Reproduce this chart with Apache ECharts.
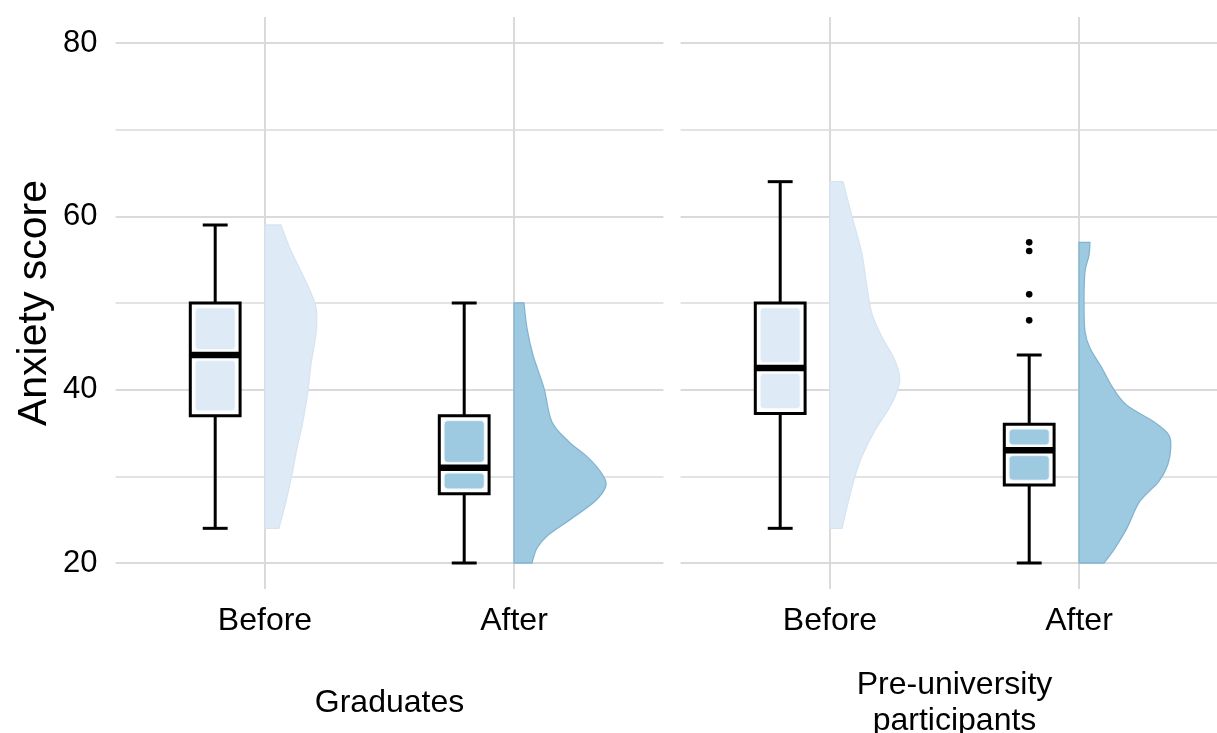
<!DOCTYPE html>
<html><head><meta charset="utf-8">
<script src="https://cdn.jsdelivr.net/npm/echarts@6/dist/echarts.min.js"></script>
<style>html,body{margin:0;padding:0;background:#fff}#c{width:1217px;height:733px}</style>
</head><body><div id="c"></div>
<script>
// ---------- data ----------
const categories = ['Before', 'After'];
const categoryPositions = [1, 2];
const facets = ['Graduates', 'Pre-university\nparticipants'];
const yTicks = [20, 40, 60, 80];
const yMinorTicks = [30, 50, 70];

// box statistics: [min, Q1, median, Q3, max]
const gradBeforeBox = [24, 37, 44, 50, 59];
const gradAfterBox  = [20, 28, 31, 37, 50];
const preBeforeBox  = [24, 37.25, 42.5, 50, 64];
const preAfterBox   = [20, 29, 33, 36, 44];

// outliers
const gradBeforeOutliers = [];
const gradAfterOutliers  = [];
const preBeforeOutliers  = [];
const preAfterOutliers   = [48, 51, 56, 57];

// half-violin density profiles: [score, density]
const gradBeforeDensity = [[59,0.016],[56.3,0.025],[53.2,0.038],[51.2,0.046],[49.6,0.051],[48,0.052],[46.3,0.051],[42.8,0.046],[39.8,0.043],[36.3,0.038],[33.2,0.032],[30.2,0.027],[27.1,0.021],[24,0.014]];
const gradAfterDensity  = [[50,0.010],[47.1,0.013],[44,0.019],[40.2,0.030],[36.3,0.038],[34,0.055],[32.1,0.075],[30.15,0.089],[28.8,0.092],[27.1,0.081],[25.15,0.058],[23.2,0.034],[21.7,0.023],[20,0.018]];
const preBeforeDensity  = [[64,0.013],[60,0.022],[55.7,0.032],[51.9,0.037],[48.8,0.042],[46.1,0.052],[43.4,0.065],[41.1,0.070],[38.4,0.062],[35.3,0.045],[32.3,0.032],[30,0.025],[26.9,0.018],[24,0.012]];
const preAfterDensity   = [[57,0.011],[55.5,0.010],[53.6,0.006],[50.1,0.005],[46.7,0.006],[44.8,0.011],[42.5,0.023],[40.2,0.034],[38.2,0.048],[36.3,0.075],[34.8,0.090],[33.2,0.092],[31.3,0.089],[29.4,0.080],[27.1,0.061],[24,0.048],[21.7,0.036],[20,0.025]];

// ---------- styling / layout ----------
const FONT = "'Liberation Sans', Arial, Helvetica, sans-serif";
const FILLS = ['#DEEBF7', '#9ECAE1'];
const STROKES = ['#d6e4f2', '#82b4d0'];
const GRID_COLOR = '#dadada';
const VIOLIN_SCALE = 4;
const BOX_OFFSET = -0.2, BOX_HALF = 0.1, CAP_HALF = 0.05;

const panels = [
  { boxes: [gradBeforeBox, gradAfterBox], outliers: [gradBeforeOutliers, gradAfterOutliers], dens: [gradBeforeDensity, gradAfterDensity] },
  { boxes: [preBeforeBox, preAfterBox], outliers: [preBeforeOutliers, preAfterOutliers], dens: [preBeforeDensity, preAfterDensity] }
];

function violinRender(panel) {
  return function (params, api) {
    const idx = params.dataIndex;
    const x = api.value(0);
    const prof = panel.dens[idx];
    const pts = prof.map(p => api.coord([x + p[1] * VIOLIN_SCALE, p[0]]));
    const top = api.coord([x, prof[0][0]]);
    const bot = api.coord([x, prof[prof.length - 1][0]]);
    let d = 'M' + top[0] + ',' + top[1] + 'L' + pts[0][0] + ',' + pts[0][1];
    for (let i = 0; i < pts.length - 1; i++) {
      const p0 = pts[i - 1] || pts[i], p1 = pts[i], p2 = pts[i + 1], p3 = pts[i + 2] || pts[i + 1];
      const c1x = p1[0] + (p2[0] - p0[0]) / 6, c1y = p1[1] + (p2[1] - p0[1]) / 6;
      const c2x = p2[0] - (p3[0] - p1[0]) / 6, c2y = p2[1] - (p3[1] - p1[1]) / 6;
      d += 'C' + c1x + ',' + c1y + ',' + c2x + ',' + c2y + ',' + p2[0] + ',' + p2[1];
    }
    d += 'L' + bot[0] + ',' + bot[1] + 'Z';
    return {
      type: 'path',
      shape: { pathData: d },
      style: { fill: FILLS[idx], stroke: STROKES[idx], lineWidth: 1.3 }
    };
  };
}

function boxRender(params, api) {
  const idx = params.dataIndex;
  const x = api.value(0) + BOX_OFFSET;
  const mn = api.value(1), q1 = api.value(2), md = api.value(3), q3 = api.value(4), mx = api.value(5);
  const tl = api.coord([x - BOX_HALF, q3]);
  const br = api.coord([x + BOX_HALF, q1]);
  const c = api.coord([x, md]);
  const yMax = api.coord([x, mx])[1], yMin = api.coord([x, mn])[1];
  const capL = api.coord([x - CAP_HALF, mx])[0], capR = api.coord([x + CAP_HALF, mx])[0];
  const left = tl[0], top = tl[1], right = br[0], bottom = br[1], w = right - left;
  const ls = { stroke: '#000', lineWidth: 3 };
  const inset = 5.5, medGap = 6;
  const children = [
    { type: 'line', shape: { x1: c[0], y1: top, x2: c[0], y2: yMax }, style: ls },
    { type: 'line', shape: { x1: c[0], y1: bottom, x2: c[0], y2: yMin }, style: ls },
    { type: 'line', shape: { x1: capL, y1: yMax, x2: capR, y2: yMax }, style: ls },
    { type: 'line', shape: { x1: capL, y1: yMin, x2: capR, y2: yMin }, style: ls },
    { type: 'rect', shape: { x: left, y: top, width: w, height: bottom - top }, style: { fill: '#fff', stroke: '#000', lineWidth: 3 } }
  ];
  const uh = c[1] - medGap - (top + inset);
  if (uh > 0) children.push({ type: 'rect', shape: { x: left + inset, y: top + inset, width: w - 2 * inset, height: uh, r: 3 }, style: { fill: FILLS[idx], shadowBlur: 2, shadowColor: FILLS[idx] } });
  const lh = bottom - inset - (c[1] + medGap);
  if (lh > 0) children.push({ type: 'rect', shape: { x: left + inset, y: c[1] + medGap, width: w - 2 * inset, height: lh, r: 3 }, style: { fill: FILLS[idx], shadowBlur: 2, shadowColor: FILLS[idx] } });
  children.push({ type: 'line', shape: { x1: left, y1: c[1], x2: right, y2: c[1] }, style: { stroke: '#000', lineWidth: 6.5 } });
  return { type: 'group', children };
}

function outlierRender(params, api) {
  const p = api.coord([api.value(0) + BOX_OFFSET, api.value(1)]);
  return { type: 'circle', shape: { cx: p[0], cy: p[1], r: 3.3 }, style: { fill: '#000' } };
}

const grids = [
  { left: 115.6, top: 17, width: 547.8, height: 572, outerBoundsMode: 'none' },
  { left: 680.6, top: 17, width: 547.8, height: 572, outerBoundsMode: 'none' }
];

const xAxes = facets.map((f, i) => ({
  gridIndex: i, type: 'value', min: 0.4, max: 2.6,
  axisLine: { show: false },
  axisTick: { show: false, customValues: categoryPositions },
  axisLabel: { customValues: categoryPositions, formatter: v => categories[Math.round(v) - 1], color: '#000', fontSize: 32, fontFamily: FONT, margin: 16 },
  splitLine: { show: true, lineStyle: { color: GRID_COLOR, width: 2 } },
  name: f, nameLocation: 'middle', nameGap: 114,
  nameTextStyle: { fontSize: 32, color: '#000', fontFamily: FONT, lineHeight: 36, verticalAlign: 'middle' }
}));

const yAxes = [];
[0, 1].forEach(i => {
  yAxes.push({
    gridIndex: i, type: 'value', min: 17, max: 83,
    axisLine: { show: false },
    axisTick: { show: false, customValues: yTicks },
    axisLabel: i === 0 ? { customValues: yTicks, color: '#000', fontSize: 31, fontFamily: FONT, margin: 18 } : { show: false, customValues: yTicks },
    splitLine: { show: true, lineStyle: { color: GRID_COLOR, width: 2 } },
    name: i === 0 ? 'Anxiety score' : '', nameLocation: 'middle', nameGap: 60, nameRotate: 90,
    nameTextStyle: { fontSize: 41, color: '#000', fontFamily: FONT }
  });
  yAxes.push({
    gridIndex: i, type: 'value', min: 17, max: 83, position: 'left',
    axisLine: { show: false },
    axisTick: { show: false, customValues: yMinorTicks },
    axisLabel: { show: false, customValues: yMinorTicks },
    splitLine: { show: true, lineStyle: { color: GRID_COLOR, width: 1.5 } }
  });
});

const series = [];
panels.forEach((p, i) => {
  series.push({
    type: 'custom', xAxisIndex: i, yAxisIndex: 2 * i, renderItem: violinRender(p), silent: true,
    data: categoryPositions.map((x, k) => [x, p.dens[k][0][0]])
  });
  series.push({
    type: 'custom', xAxisIndex: i, yAxisIndex: 2 * i, renderItem: boxRender, silent: true,
    encode: { x: 0, y: [1, 2, 3, 4, 5] },
    data: categoryPositions.map((x, k) => [x].concat(p.boxes[k]))
  });
  const od = [];
  categoryPositions.forEach((x, k) => p.outliers[k].forEach(v => od.push([x, v])));
  series.push({
    type: 'custom', xAxisIndex: i, yAxisIndex: 2 * i, renderItem: outlierRender, silent: true,
    data: od
  });
});

const chart = echarts.init(document.getElementById('c'), null, { renderer: 'canvas' });
chart.setOption({
  backgroundColor: '#fff',
  animation: false,
  textStyle: { fontFamily: FONT },
  grid: grids, xAxis: xAxes, yAxis: yAxes, series
});
</script></body></html>
